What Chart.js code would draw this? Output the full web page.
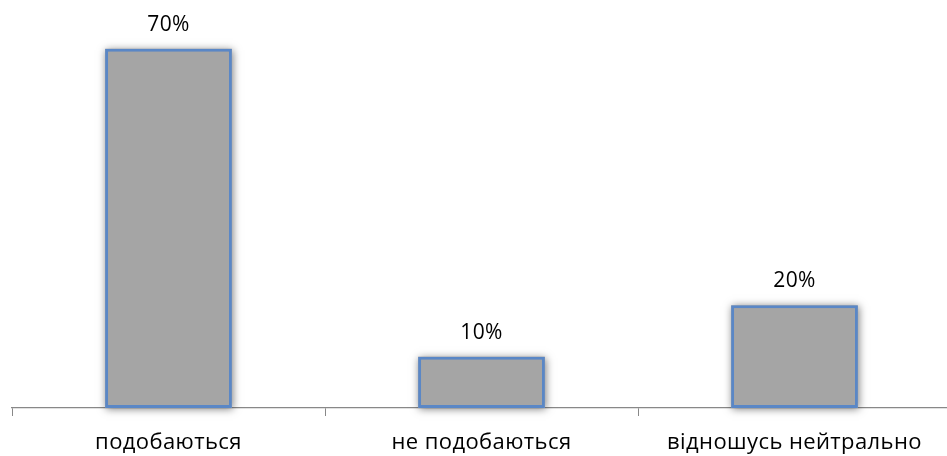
<!DOCTYPE html>
<html>
<head>
<meta charset="utf-8">
<script src="https://cdn.jsdelivr.net/npm/chart.js@4/dist/chart.umd.min.js"></script>
<style>
  html, body { margin: 0; padding: 0; background: #fff; overflow: hidden; }
  #wrap { width: 951px; height: 456px; }
</style>
</head>
<body>
<div id="wrap"><canvas id="c" width="951" height="456"></canvas></div>
<script>
// Відповіді на питання
const categories = ['подобаються', 'не подобаються', 'відношусь нейтрально'];
const shares = [70, 10, 20];
const valueLabels = ['70%', '10%', '20%'];

const FONT = '"Open Sans", "Noto Sans", sans-serif';

// Slightly wider letter spacing for the category names
const textSpacing = {
  id: 'textSpacing',
  beforeDraw(chart) {
    chart.ctx.letterSpacing = '0.4px';
  }
};

// Soft shadow behind the bars, drawn in its own pass so the bars stay crisp
const barShadow = {
  id: 'barShadow',
  beforeDatasetsDraw(chart) {
    const ctx = chart.ctx;
    const meta = chart.getDatasetMeta(0);
    ctx.save();
    ctx.shadowColor = 'rgba(0,0,0,0.5)';
    ctx.shadowBlur = 8;
    ctx.shadowOffsetX = 1;
    ctx.shadowOffsetY = 1;
    ctx.fillStyle = '#A5A5A5';
    meta.data.forEach(bar => {
      const p = bar.getProps(['x', 'y', 'base', 'width'], true);
      ctx.fillRect(p.x - p.width / 2, p.y, p.width, p.base - p.y);
    });
    ctx.restore();
  }
};

// Value captions above each bar
const valueCaptions = {
  id: 'valueCaptions',
  afterDatasetsDraw(chart) {
    const ctx = chart.ctx;
    const meta = chart.getDatasetMeta(0);
    ctx.save();
    ctx.font = '21px ' + FONT;
    ctx.letterSpacing = '0.3px';
    ctx.fillStyle = '#000';
    ctx.textAlign = 'center';
    ctx.textBaseline = 'alphabetic';
    meta.data.forEach((bar, i) => {
      ctx.fillText(valueLabels[i], bar.x, bar.y - 18);
    });
    ctx.restore();
  }
};

new Chart(document.getElementById('c'), {
  type: 'bar',
  data: {
    labels: categories,
    datasets: [{
      data: shares,
      backgroundColor: '#A5A5A5',
      borderColor: '#5A87C6',
      borderWidth: 3,
      borderSkipped: false,
      categoryPercentage: 0.405,
      barPercentage: 1
    }]
  },
  options: {
    responsive: false,
    animation: false,
    layout: { padding: { left: 12, right: 0, top: 0, bottom: 0 } },
    plugins: { legend: { display: false }, tooltip: { enabled: false } },
    scales: {
      y: { display: false, min: 0, max: 79.5 },
      x: {
        afterFit(scale) { scale.height = 48; },
        border: { display: true, color: '#888888', width: 1.3 },
        grid: { display: true, drawOnChartArea: false, drawTicks: true, tickLength: 8, color: '#888888', offset: true },
        ticks: { color: '#000', font: { family: FONT, size: 22 }, padding: 14, maxRotation: 0 }
      }
    }
  },
  plugins: [textSpacing, barShadow, valueCaptions]
});
</script>
</body>
</html>
